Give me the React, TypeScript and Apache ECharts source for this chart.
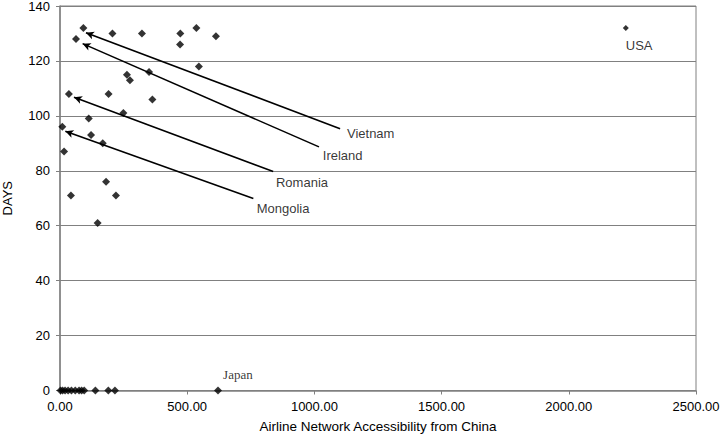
import React, { useEffect, useRef } from "react";
import * as echarts from "echarts";

// Airline network accessibility from China (x) vs DAYS (y)
const accessibility = [
  92, 63, 206, 322, 473, 536, 613, 472, 546, 350, 263, 275, 363, 191, 35, 249,
  113, 9, 122, 168, 16, 43, 181, 220, 148,
  2, 10, 20, 32, 45, 60, 75, 85, 95, 139, 190, 216, 621,
];
const days = [
  132, 128, 130, 130, 130, 132, 129, 126, 118, 116, 115, 113, 106, 108, 108, 101,
  99, 96, 93, 90, 87, 71, 76, 71, 61,
  0, 0, 0, 0, 0, 0, 0, 0, 0, 0, 0, 0, 0,
];
const usaPoint = [2224, 132];

// Annotation arrows: tail (label side) and head (pointing at the country)
const arrowNames = ["Vietnam", "Ireland", "Romania", "Mongolia"];
const arrowTail = [
  [1101, 95.3],
  [1018, 88.7],
  [838, 79.7],
  [760, 69.9],
];
const arrowHead = [
  [102, 130.3],
  [89, 126.3],
  [55, 106.8],
  [21, 94.4],
];
// label anchor (left-middle of text) in data coordinates
const labelNames = ["Vietnam", "Ireland", "Romania", "Mongolia", "USA"];
const labelPos = [
  [1128, 93.6],
  [1033, 85.6],
  [849, 75.9],
  [773, 66.3],
  [2224, 125.6],
];
const japanLabel = { name: "Japan", pos: [641, 6] };

const xTicks = { min: 0, max: 2500, interval: 500 };
const yTicks = { min: 0, max: 140, interval: 20 };

const SANS = "Liberation Sans, Arial, sans-serif";

export default function App() {
  const ref = useRef<HTMLDivElement>(null);
  useEffect(() => {
    if (!ref.current) return;
    const chart = echarts.init(ref.current, undefined, { renderer: "svg" });
    const points = accessibility.map((x, i) => [x, days[i]]);
    const option: any = {
      animation: false,
      backgroundColor: "#ffffff",
      textStyle: { fontFamily: SANS },
      grid: {
        left: 60,
        right: 24,
        top: 6,
        bottom: 44.5,
        containLabel: false,
        outerBoundsMode: "none",
        show: true,
        borderColor: "#808080",
        borderWidth: 1,
      },
      xAxis: {
        type: "value",
        min: xTicks.min,
        max: xTicks.max,
        interval: xTicks.interval,
        name: "Airline Network Accessibility from China",
        nameLocation: "middle",
        nameGap: 29,
        nameTextStyle: { color: "#000", fontSize: 13.5, fontFamily: SANS },
        axisLine: { show: true, lineStyle: { color: "#808080", width: 1.5 } },
        axisTick: { show: true, length: 4, lineStyle: { color: "#808080" } },
        axisLabel: {
          color: "#000",
          fontSize: 13,
          fontFamily: SANS,
          margin: 9,
          hideOverlap: false,
          formatter: (v: number) => v.toFixed(2),
        },
        splitLine: { show: false },
      },
      yAxis: {
        type: "value",
        min: yTicks.min,
        max: yTicks.max,
        interval: yTicks.interval,
        name: "DAYS",
        nameLocation: "middle",
        nameRotate: 90,
        nameGap: 46,
        nameTextStyle: { color: "#000", fontSize: 13, fontFamily: SANS },
        axisLine: { show: true, lineStyle: { color: "#808080", width: 1.5 } },
        axisTick: { show: true, length: 4, lineStyle: { color: "#808080" } },
        axisLabel: { color: "#000", fontSize: 13, fontFamily: SANS, margin: 10 },
        splitLine: { show: true, lineStyle: { color: "#808080", width: 1 } },
      },
      series: [
        {
          type: "scatter",
          data: points,
          symbol: "diamond",
          symbolSize: 8,
          itemStyle: { color: "#000" },
          markLine: {
            silent: true,
            symbol: ["none", "arrow"],
            symbolSize: [6, 8],
            lineStyle: { color: "#000", width: 1.6, type: "solid" },
            label: { show: false },
            data: arrowNames.map((n, i) => [
              { name: n, coord: arrowTail[i] },
              { coord: arrowHead[i] },
            ]),
          },
        },
        {
          type: "scatter",
          data: [usaPoint],
          symbol: "diamond",
          symbolSize: 6,
          itemStyle: { color: "#000" },
        },
        {
          type: "scatter",
          symbolSize: 0,
          silent: true,
          data: labelNames.map((n, i) => ({ name: n, value: labelPos[i] })),
          label: {
            show: true,
            position: "right",
            distance: 0,
            align: "left",
            verticalAlign: "middle",
            formatter: (p: any) => p.name,
            color: "#000",
            fontSize: 13,
            fontFamily: SANS,
          },
        },
        {
          type: "scatter",
          symbolSize: 0,
          silent: true,
          data: [{ name: japanLabel.name, value: japanLabel.pos }],
          label: {
            show: true,
            position: "right",
            distance: 0,
            align: "left",
            verticalAlign: "middle",
            formatter: (p: any) => p.name,
            color: "#000",
            fontSize: 13,
            fontFamily: "Liberation Serif, Times New Roman, serif",
          },
        },
      ],
    };
    chart.setOption(option);
    return () => chart.dispose();
  }, []);
  return (
    <div
      ref={ref}
      style={{ position: "fixed", left: 0, top: 0, width: 720, height: 435 }}
    />
  );
}
